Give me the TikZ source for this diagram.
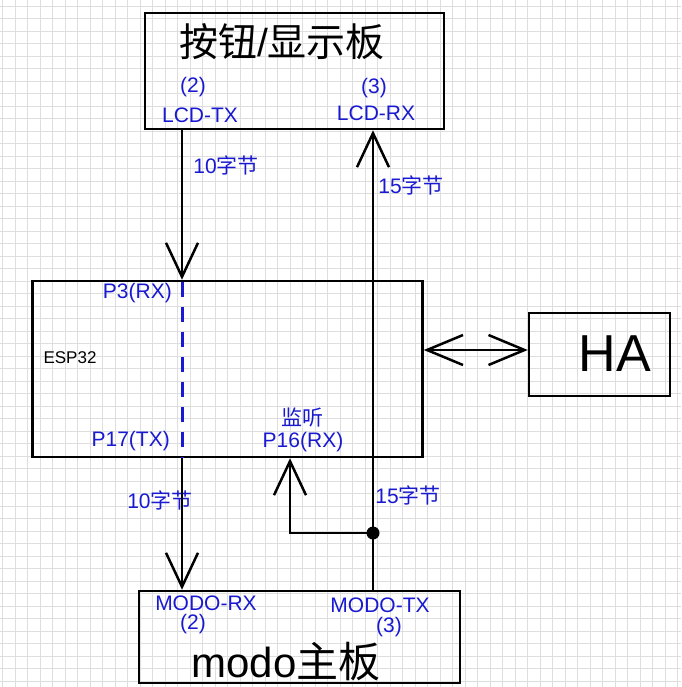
\documentclass[tikz,border=0pt]{standalone}
\usepackage{fontspec}
\setmainfont{Liberation Sans}
\newfontfamily\cjk{Noto Sans CJK SC}
\usetikzlibrary{arrows.meta}
\definecolor{lblue}{RGB}{25,25,210}
\definecolor{gridc}{RGB}{222,222,222}
\begin{document}
\begin{tikzpicture}[x=1pt,y=-1pt,
  box/.style={draw=black, line width=2.5pt, rectangle, inner sep=0pt},
  wire/.style={draw=black, line width=2.5pt},
  vee/.style={-{Straight Barb[length=34pt,width=32pt]}},
  dvee/.style={{Straight Barb[length=36pt,width=30pt]}-{Straight Barb[length=36pt,width=30pt]}},
  lbl/.style={text=lblue, inner sep=0pt, font=\fontsize{21}{21}\selectfont},
  big/.style={text=black, inner sep=0pt, font=\fontsize{39}{39}\selectfont},
]
\useasboundingbox (0,0) rectangle (681,687);
\fill[white] (0,0) rectangle (681,687);
\foreach \i in {0,...,54} \draw[gridc, line width=0.9pt] (2.7+12.5*\i,0) -- (2.7+12.5*\i,687);
\foreach \i in {0,...,54} \draw[gridc, line width=0.9pt] (0,6+12.5*\i) -- (681,6+12.5*\i);

% boxes
\node[box, minimum width=299pt, minimum height=116pt] (top) at (294.5,71) {};
\node[box, minimum width=390pt, minimum height=176pt] (esp) at (227.5,369) {};
\node[box, minimum width=321pt, minimum height=92pt] (modo) at (299.5,637) {};
\node[box, minimum width=141pt, minimum height=83pt] (ha) at (599.5,354.5) {};

% x positions
\coordinate (xl) at (182,0);
\coordinate (xr) at (373,0);
\coordinate (xm) at (290,0);
\coordinate (yha) at (0,350);

% titles
\node[big] (ttop) at (282,42) {{\cjk 按钮}/{\cjk 显示板}};
\node[big, font=\fontsize{42}{42}\selectfont] (tmodo) at (286,662) {modo{\cjk 主板}};
\node[inner sep=0pt, font=\fontsize{52}{52}\selectfont] (tha) at (615,354) {HA};
\node[inner sep=0pt, font=\fontsize{17}{17}\selectfont] (tesp) at (70,358) {ESP32};

% pin labels
\node[lbl] (p2a) at (193,87) {(2)};
\node[lbl] (lcdtx) at (200,115) {LCD-TX};
\node[lbl] (p3a) at (374,88) {(3)};
\node[lbl] (lcdrx) at (376,113) {LCD-RX};
\node[lbl, anchor=east] (p3rx) at (172,293) {P3(RX)};
\node[lbl, anchor=east] (p17) at (170,441) {P17(TX)};
\node[lbl] (listen) at (302,418) {\cjk 监听};
\node[lbl] (p16) at (303,442) {P16(RX)};
\node[lbl] (mrx) at (206,603) {MODO-RX};
\node[lbl] (p2b) at (193,624) {(2)};
\node[lbl] (mtx) at (380,605) {MODO-TX};
\node[lbl] (p3b) at (389,627) {(3)};

% byte labels
\node[lbl] (b1) at (226,165) {10{\cjk 字节}};
\node[lbl] (b2) at (411,185) {15{\cjk 字节}};
\node[lbl] (b3) at (160,500) {10{\cjk 字节}};
\node[lbl] (b4) at (408,495) {15{\cjk 字节}};

% connectors
\draw[wire, vee] (top.south -| xl) -- (esp.north -| xl);
\draw[lblue, line width=3pt, dash pattern=on 15pt off 10pt, dash phase=-2pt] (esp.north -| xl) -- (esp.south -| xl);
\draw[wire, vee] (esp.south -| xl) -- (modo.north -| xl);
\draw[wire, vee] (modo.north -| xr) -- (top.south -| xr);
\node[circle, fill=black, minimum size=13pt, inner sep=0pt] (j) at (373,533) {};
\draw[wire, vee] (j.center) -| (esp.south -| xm);
\draw[wire, dvee] (esp.east |- yha) -- (ha.west |- yha);
\end{tikzpicture}
\end{document}
